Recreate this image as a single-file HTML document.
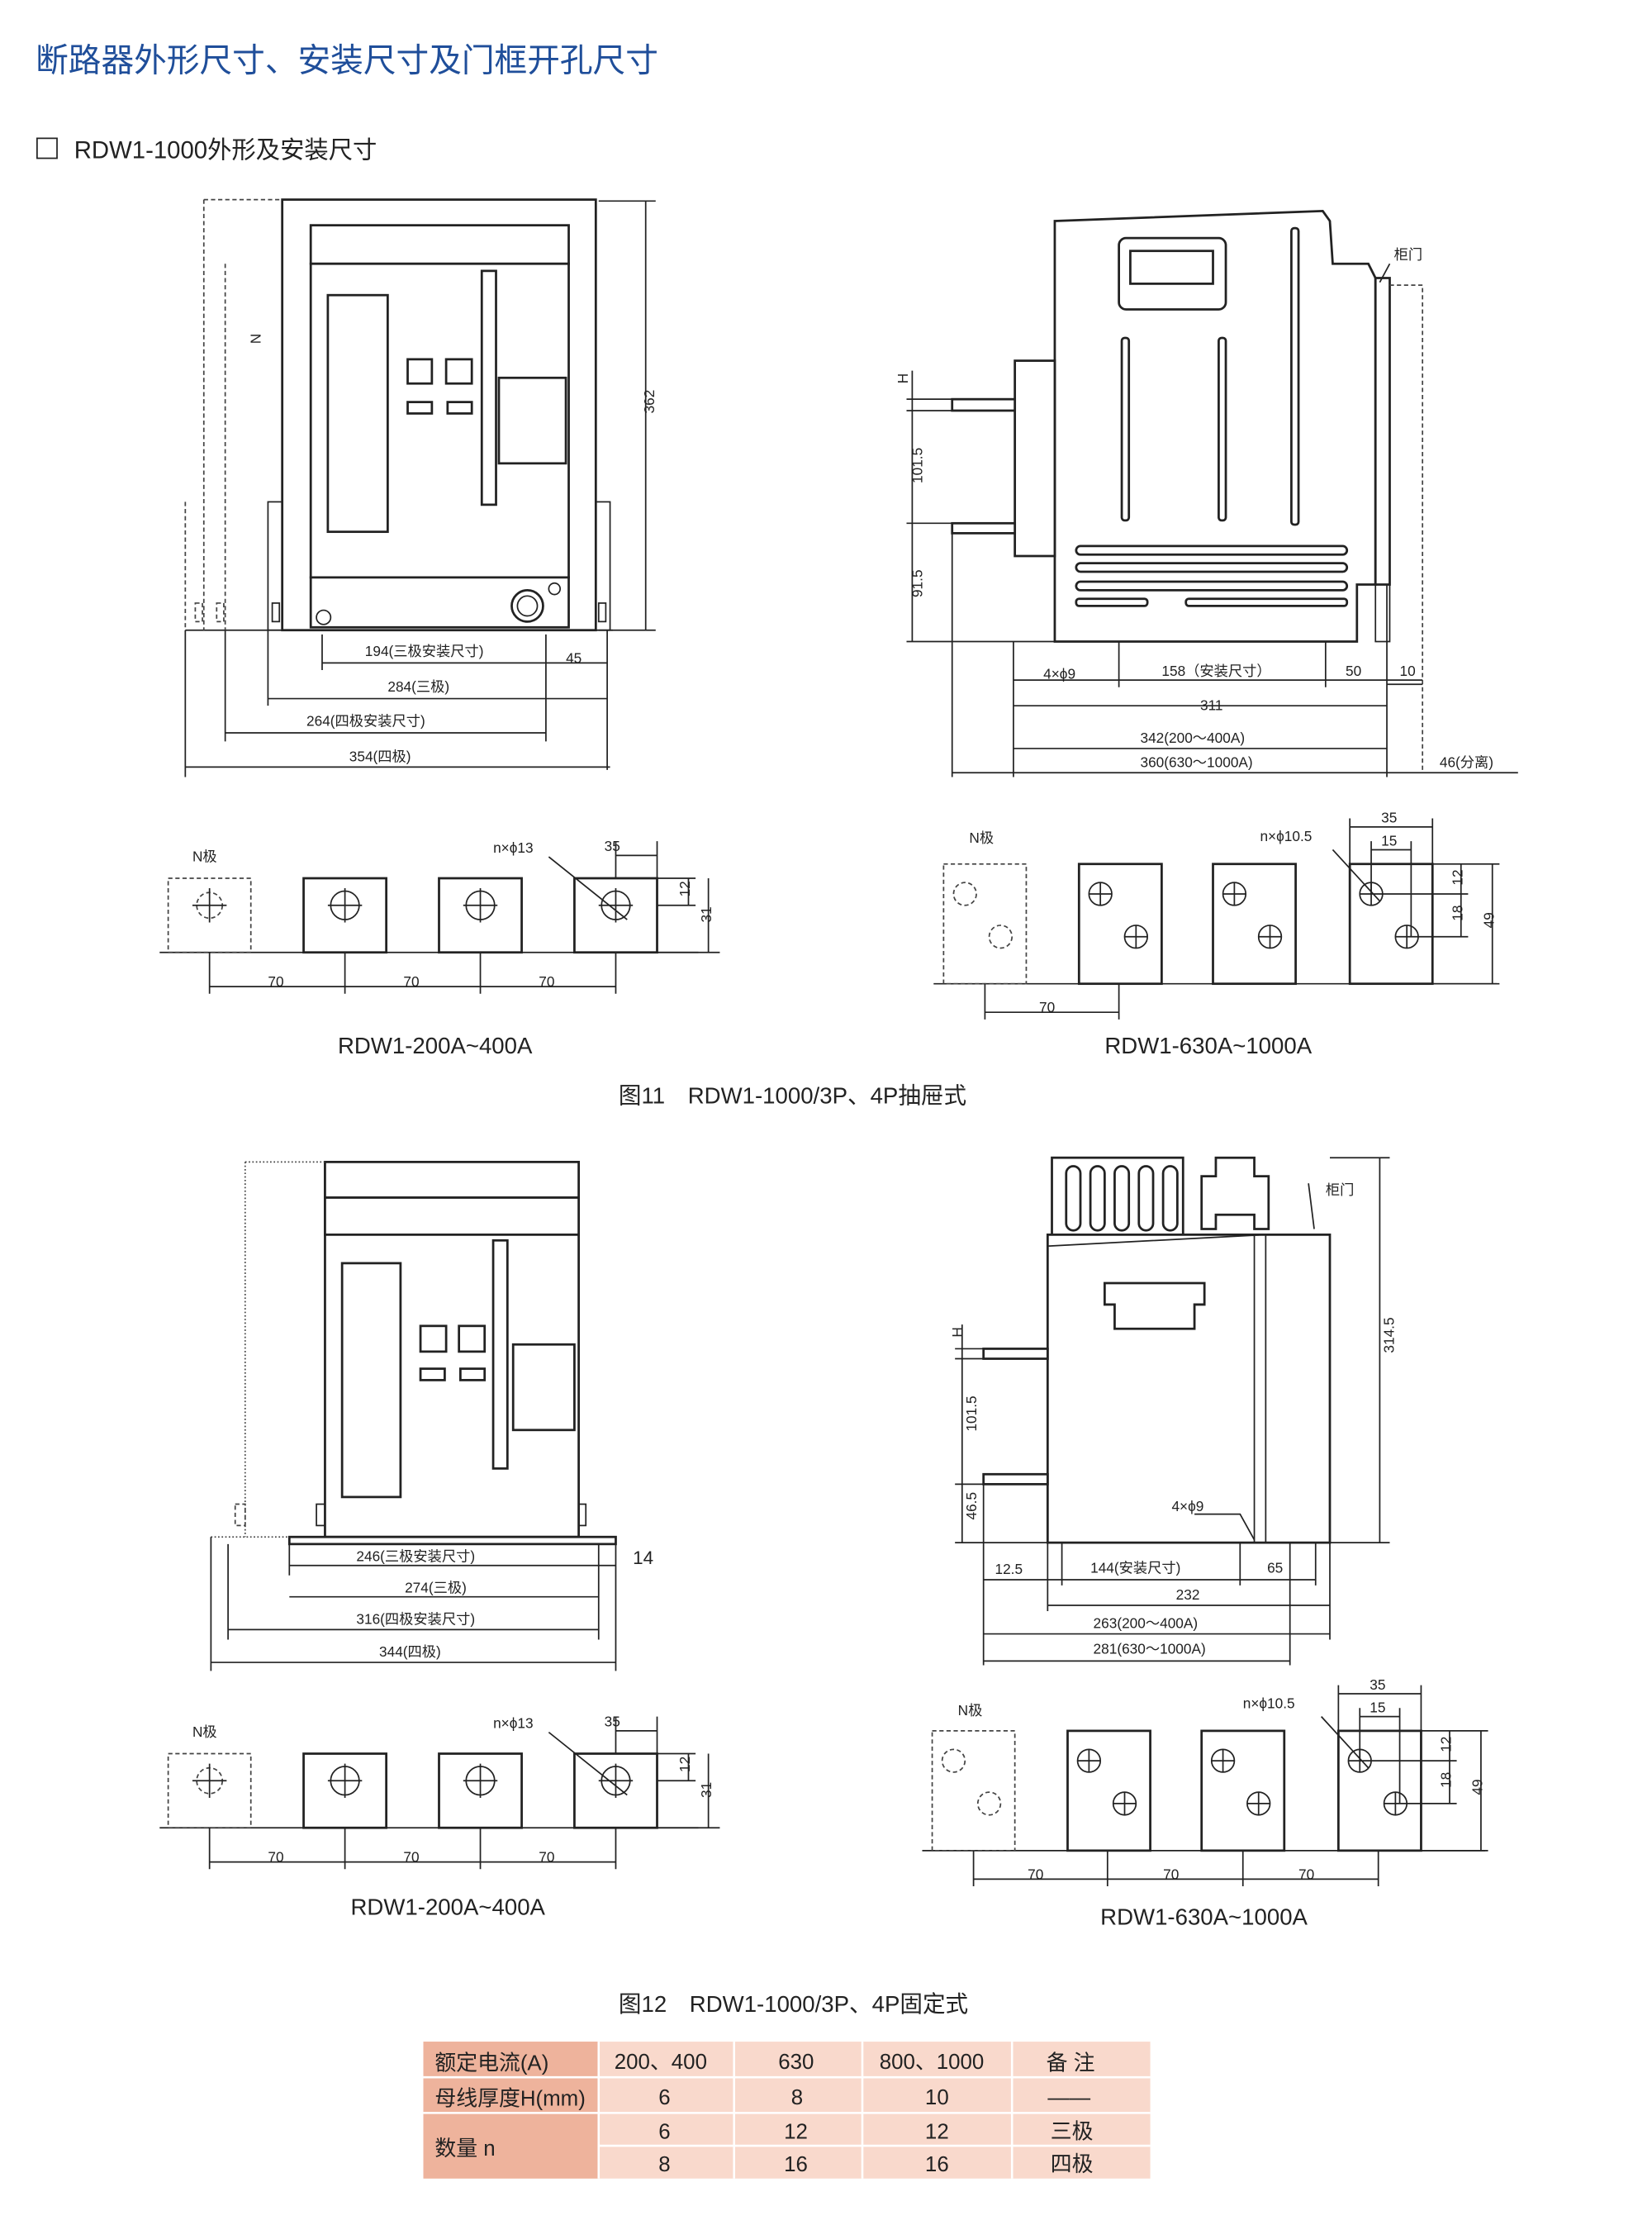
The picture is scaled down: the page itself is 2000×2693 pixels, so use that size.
<!DOCTYPE html>
<html><head><meta charset="utf-8"><style>
html,body{margin:0;padding:0;background:#fff}
svg{display:block}
text{font-family:"Liberation Sans","Noto Sans CJK SC",sans-serif;fill:#222}
.d{font-size:10px}
.l{stroke:#222;stroke-width:1;fill:none}
.t{stroke:#222;stroke-width:1.6;fill:#fff}
.ds{stroke:#444;stroke-width:1;fill:none;stroke-dasharray:3 2}
</style></head><body>
<svg width="2000" height="2693" viewBox="0 0 1159 1560.6" xmlns="http://www.w3.org/2000/svg">
<text x="25" y="50" style="font-size:23px;fill:#1f4e9a">断路器外形尺寸、安装尺寸及门框开孔尺寸</text>
<rect x="26" y="97" width="14" height="14" class="l"/>
<text x="52" y="111" style="font-size:17px">RDW1-1000外形及安装尺寸</text>

<!-- Drawing 1 -->
<g>
<rect x="198" y="140" width="220" height="302" class="t"/>
<rect x="218" y="158" width="181" height="27" class="t"/>
<rect x="218" y="185" width="181" height="220" class="t"/>
<rect x="218" y="405" width="181" height="35" class="t"/>
<rect x="230" y="207" width="42" height="166" class="t"/>
<rect x="286" y="252" width="17" height="17" class="t"/><rect x="313" y="252" width="18" height="17" class="t"/>
<rect x="286" y="282" width="17" height="8" class="t"/><rect x="314" y="282" width="17" height="8" class="t"/>
<rect x="338" y="190" width="10" height="164" class="t"/>
<rect x="350" y="265" width="47" height="60" class="t"/>
<circle cx="370" cy="425" r="11" class="t"/><circle cx="370" cy="425" r="7" class="l"/>
<circle cx="227" cy="433" r="5" class="l"/><circle cx="389" cy="413" r="4" class="l"/>
<rect x="188" y="352" width="10" height="90" class="l"/><rect x="418" y="352" width="10" height="90" class="l"/>
<rect x="191" y="423" width="5" height="13" class="l"/><rect x="420" y="423" width="5" height="13" class="l"/>
<line x1="130" y1="442" x2="430" y2="442" class="l"/>
<path d="M143 140H198M143 140V442M158 185V442M130 352V442" class="ds"/>
<rect x="137" y="423" width="5" height="13" class="ds"/><rect x="152" y="423" width="5" height="13" class="ds"/>
<text class="d" x="172" y="238" transform="rotate(90 176 238)">N</text>
<path d="M420 141H460M453 141V442M420 442H460" class="l"/>
<text class="d" x="449" y="300" transform="rotate(-90 449 290)">362</text>
<path d="M226 465H426M226 445V470M383 445V470M426 442V540M188 442V495M158 442V520M130 442V545M188 490H426M158 514H383M383 465V520M130 538H428" class="l"/>
<text class="d" x="256" y="460">194(三极安装尺寸)</text><text class="d" x="397" y="465">45</text>
<text class="d" x="272" y="485">284(三极)</text><text class="d" x="215" y="509">264(四极安装尺寸)</text>
<text class="d" x="245" y="534">354(四极)</text>
</g>

<!-- Drawing 2 -->
<g>
<path d="M740 155L928 148L933 155L935 185L960 185L965 195L965 410L952 410L952 450L740 450Z" class="t"/>
<rect x="712" y="253" width="28" height="137" class="t"/>
<rect x="668" y="280" width="44" height="8" class="t"/><rect x="668" y="367" width="44" height="7" class="t"/>
<rect x="785" y="167" width="75" height="50" rx="5" class="t"/><rect x="793" y="176" width="58" height="23" class="t"/>
<rect x="787" y="237" width="5" height="128" rx="2" class="t"/><rect x="855" y="237" width="5" height="128" rx="2" class="t"/><rect x="906" y="160" width="5" height="208" rx="2" class="t"/>
<rect x="755" y="383" width="190" height="6" rx="3" class="t"/><rect x="755" y="395" width="190" height="6" rx="3" class="t"/>
<rect x="755" y="408" width="190" height="6" rx="3" class="t"/><rect x="755" y="420" width="50" height="5" rx="2" class="t"/><rect x="832" y="420" width="113" height="5" rx="2" class="t"/>
<rect x="965" y="195" width="10" height="215" class="t"/>
<rect x="965" y="410" width="10" height="40" class="l"/>
<path d="M975 200H998V540" class="ds"/>
<text class="d" x="978" y="182">柜门</text><line x1="975" y1="185" x2="968" y2="198" class="l"/>
<path d="M640 260V450M636 280H668M636 288H668M636 367H668M636 450H740" class="l"/>
<text class="d" x="633" y="265" transform="rotate(-90 637 265)">H</text>
<text class="d" x="633" y="345" transform="rotate(-90 637 335)">101.5</text>
<text class="d" x="633" y="425" transform="rotate(-90 637 415)">91.5</text>
<path d="M711 450V545M668 374V545M785 450V482M930 450V482M973 410V545M998 480H973M711 477H998M711 495H973M711 525H973M668 542H973M973 542H1065" class="l"/>
<text class="d" x="732" y="476">4×ϕ9</text><text class="d" x="815" y="474">158（安装尺寸）</text>
<text class="d" x="944" y="474">50</text><text class="d" x="982" y="474">10</text>
<text class="d" x="842" y="498">311</text><text class="d" x="800" y="521">342(200～400A)</text>
<text class="d" x="800" y="538">360(630～1000A)</text><text class="d" x="1010" y="538">46(分离)</text>
</g>

<!-- busbar set A -->
<g id="ba">
<line x1="112" y1="668" x2="490" y2="668" class="l"/>
<rect x="118" y="616" width="58" height="52" class="ds"/>
<rect x="213" y="616" width="58" height="52" class="t"/><rect x="308" y="616" width="58" height="52" class="t"/><rect x="403" y="616" width="58" height="52" class="t"/>
<circle cx="147" cy="635" r="9" class="ds"/><circle cx="242" cy="635" r="10" class="l"/><circle cx="337" cy="635" r="10" class="l"/><circle cx="432" cy="635" r="10" class="l"/>
<path d="M135 635H159M147 623V647M230 635H254M242 623V647M325 635H349M337 623V647M420 635H444M432 623V647" class="l"/>
<path d="M147 668V697M242 668V697M337 668V697M432 668V697M147 692H432M432 600H461M432 590V616M461 590V616M461 616H488M461 635H488M461 668H505M483 616V635M497 616V668M385 601L440 645" class="l"/>
<text class="d" x="135" y="604">N极</text><text class="d" x="346" y="598">n×ϕ13</text><text class="d" x="424" y="597">35</text>
<text class="d" x="475" y="630" transform="rotate(-90 479 625)">12</text><text class="d" x="490" y="648" transform="rotate(-90 494 643)">31</text>
<text class="d" x="188" y="692">70</text><text class="d" x="283" y="692">70</text><text class="d" x="378" y="692">70</text>
</g>
<text x="237" y="739" style="font-size:16px">RDW1-200A~400A</text>

<!-- busbar set B -->
<g id="bb">
<line x1="655" y1="690" x2="1050" y2="690" class="l"/>
<rect x="662" y="606" width="58" height="84" class="ds"/>
<rect x="757" y="606" width="58" height="84" class="t"/><rect x="851" y="606" width="58" height="84" class="t"/><rect x="947" y="606" width="58" height="84" class="t"/>
<circle cx="677" cy="627" r="8" class="ds"/><circle cx="702" cy="657" r="8" class="ds"/>
<circle cx="772" cy="627" r="8" class="l"/><circle cx="797" cy="657" r="8" class="l"/>
<circle cx="866" cy="627" r="8" class="l"/><circle cx="891" cy="657" r="8" class="l"/>
<circle cx="962" cy="627" r="8" class="l"/><circle cx="987" cy="657" r="8" class="l"/>
<path d="M764 627H780M772 619V635M789 657H805M797 649V665M858 627H874M866 619V635M883 657H899M891 649V665M954 627H970M962 619V635M979 657H995M987 649V665" class="l"/>
<path d="M947 580H1005M947 574V606M1005 574V606M962 596H990M962 590V627M990 590V657M1005 606H1052M970 627H1030M995 657H1030M1005 690H1052M1025 606V657M1047 606V690M691 690V715M785 690V715M691 710H785M935 596L968 632" class="l"/>
<text class="d" x="680" y="591">N极</text><text class="d" x="884" y="590">n×ϕ10.5</text>
<text class="d" x="969" y="577">35</text><text class="d" x="969" y="593">15</text>
<text class="d" x="1017" y="622" transform="rotate(-90 1021 617)">12</text>
<text class="d" x="1017" y="647" transform="rotate(-90 1021 642)">18</text>
<text class="d" x="1039" y="652" transform="rotate(-90 1043 647)">49</text>
<text class="d" x="729" y="710">70</text>
</g>
<text x="775" y="739" style="font-size:16px">RDW1-630A~1000A</text>
<text x="434" y="774" style="font-size:16px">图11　RDW1-1000/3P、4P抽屉式</text>

<!-- Drawing 3 -->
<g>
<rect x="228" y="815" width="178" height="263" class="t"/>
<rect x="228" y="815" width="178" height="25" class="t"/><rect x="228" y="840" width="178" height="26" class="t"/>
<rect x="240" y="886" width="41" height="164" class="t"/>
<rect x="295" y="930" width="18" height="18" class="t"/><rect x="322" y="930" width="18" height="18" class="t"/>
<rect x="295" y="960" width="17" height="8" class="t"/><rect x="323" y="960" width="17" height="8" class="t"/>
<rect x="346" y="870" width="10" height="160" class="t"/>
<rect x="360" y="943" width="43" height="60" class="t"/>
<rect x="203" y="1078" width="229" height="5" class="t"/>
<rect x="222" y="1055" width="6" height="15" class="l"/><rect x="406" y="1055" width="5" height="15" class="l"/>
<path d="M172 815H228M172 815V1078M148 1078H203" class="ds" style="stroke-dasharray:1 1.5"/>
<rect x="165" y="1055" width="7" height="15" class="ds"/>
<path d="M203 1083V1105M420 1083V1150M432 1083V1172M160 1083V1150M148 1078V1172M203 1098H432M203 1120H420M160 1143H420M148 1166H432" class="l"/>
<text class="d" x="250" y="1095">246(三极安装尺寸)</text><text x="444" y="1097" style="font-size:13px">14</text>
<text class="d" x="284" y="1117">274(三极)</text><text class="d" x="250" y="1139">316(四极安装尺寸)</text>
<text class="d" x="266" y="1162">344(四极)</text>
</g>

<!-- Drawing 4 -->
<g>
<rect x="738" y="812" width="92" height="54" class="t"/>
<rect x="748" y="818" width="10" height="45" rx="5" class="t"/><rect x="765" y="818" width="10" height="45" rx="5" class="t"/><rect x="782" y="818" width="10" height="45" rx="5" class="t"/><rect x="799" y="818" width="10" height="45" rx="5" class="t"/><rect x="816" y="818" width="10" height="45" rx="5" class="t"/>
<path d="M843 862V825H853V812H880V825H890V862H880V852H853V862Z" class="t"/>
<rect x="735" y="866" width="198" height="216" class="t"/>
<path d="M880 866V1082M888 866V1082M735 874L888 866" class="l"/>
<path d="M775 900H845V915H838V932H782V915H775Z" class="t"/>
<rect x="690" y="946" width="45" height="7" class="t"/><rect x="690" y="1034" width="45" height="7" class="t"/>
<path d="M675 929V1082M670 946H690M670 953H690M670 1041H690M670 1082H735M933 812H975M933 1082H975M968 812V1082M918 830L922 862M838 1062L870 1062L880 1080" class="l"/>
<text class="d" x="930" y="838">柜门</text>
<text class="d" x="671" y="934" transform="rotate(-90 675 934)">H</text>
<text class="d" x="671" y="1010" transform="rotate(-90 675 1000)">101.5</text>
<text class="d" x="671" y="1072" transform="rotate(-90 675 1062)">46.5</text>
<text class="d" x="964" y="955" transform="rotate(-90 968 945)">314.5</text>
<text class="d" x="822" y="1060">4×ϕ9</text>
<path d="M690 1041V1168M735 1082V1130M745 1082V1112M870 1082V1112M923 1082V1112M933 1082V1150M905 1082V1168M690 1108H923M735 1126H933M690 1146H933M690 1165H905" class="l"/>
<text class="d" x="698" y="1104">12.5</text><text class="d" x="765" y="1103">144(安装尺寸)</text><text class="d" x="889" y="1103">65</text>
<text class="d" x="825" y="1122">232</text><text class="d" x="767" y="1142">263(200～400A)</text><text class="d" x="767" y="1160">281(630～1000A)</text>
</g>

<!-- busbar set C -->
<use href="#ba" transform="translate(0,614)"/>
<text x="246" y="1343" style="font-size:16px">RDW1-200A~400A</text>

<!-- busbar set D -->
<g transform="translate(-8,608)">
<line x1="655" y1="690" x2="1050" y2="690" class="l"/>
<rect x="662" y="606" width="58" height="84" class="ds"/>
<rect x="757" y="606" width="58" height="84" class="t"/><rect x="851" y="606" width="58" height="84" class="t"/><rect x="947" y="606" width="58" height="84" class="t"/>
<circle cx="677" cy="627" r="8" class="ds"/><circle cx="702" cy="657" r="8" class="ds"/>
<circle cx="772" cy="627" r="8" class="l"/><circle cx="797" cy="657" r="8" class="l"/>
<circle cx="866" cy="627" r="8" class="l"/><circle cx="891" cy="657" r="8" class="l"/>
<circle cx="962" cy="627" r="8" class="l"/><circle cx="987" cy="657" r="8" class="l"/>
<path d="M764 627H780M772 619V635M789 657H805M797 649V665M858 627H874M866 619V635M883 657H899M891 649V665M954 627H970M962 619V635M979 657H995M987 649V665" class="l"/>
<path d="M947 580H1005M947 574V606M1005 574V606M962 596H990M962 590V627M990 590V657M1005 606H1052M970 627H1030M995 657H1030M1005 690H1052M1025 606V657M1047 606V690M691 690V715M785 690V715M880 690V715M975 690V715M691 710H975M935 596L968 632" class="l"/>
<text class="d" x="680" y="595">N极</text><text class="d" x="880" y="590">n×ϕ10.5</text>
<text class="d" x="969" y="577">35</text><text class="d" x="969" y="593">15</text>
<text class="d" x="1017" y="622" transform="rotate(-90 1021 617)">12</text>
<text class="d" x="1017" y="647" transform="rotate(-90 1021 642)">18</text>
<text class="d" x="1039" y="652" transform="rotate(-90 1043 647)">49</text>
<text class="d" x="729" y="710">70</text><text class="d" x="824" y="710">70</text><text class="d" x="919" y="710">70</text>
</g>
<text x="772" y="1350" style="font-size:16px">RDW1-630A~1000A</text>
<text x="434" y="1411" style="font-size:16px">图12　RDW1-1000/3P、4P固定式</text>

<!-- Table -->
<g style="font-size:15px">
<rect x="297" y="1432" width="510" height="96" fill="#f9d9cc"/>
<rect x="297" y="1432" width="123" height="96" fill="#eeb39c"/>
<path d="M297 1457H807M297 1482H807M420 1505H807M420 1432V1528M515 1432V1528M605 1432V1528M710 1432V1528" stroke="#fff" stroke-width="1.5"/>
<text x="305" y="1452">额定电流(A)</text><text x="431" y="1451">200、400</text><text x="546" y="1451">630</text><text x="617" y="1451">800、1000</text><text x="734" y="1452">备 注</text>
<text x="305" y="1477">母线厚度H(mm)</text><text x="462" y="1476">6</text><text x="555" y="1476">8</text><text x="649" y="1476">10</text><text x="735" y="1476">——</text>
<text x="305" y="1512">数量  n</text>
<text x="462" y="1500">6</text><text x="550" y="1500">12</text><text x="649" y="1500">12</text><text x="737" y="1500">三极</text>
<text x="462" y="1523">8</text><text x="550" y="1523">16</text><text x="649" y="1523">16</text><text x="737" y="1523">四极</text>
</g>
</svg>
</body></html>
